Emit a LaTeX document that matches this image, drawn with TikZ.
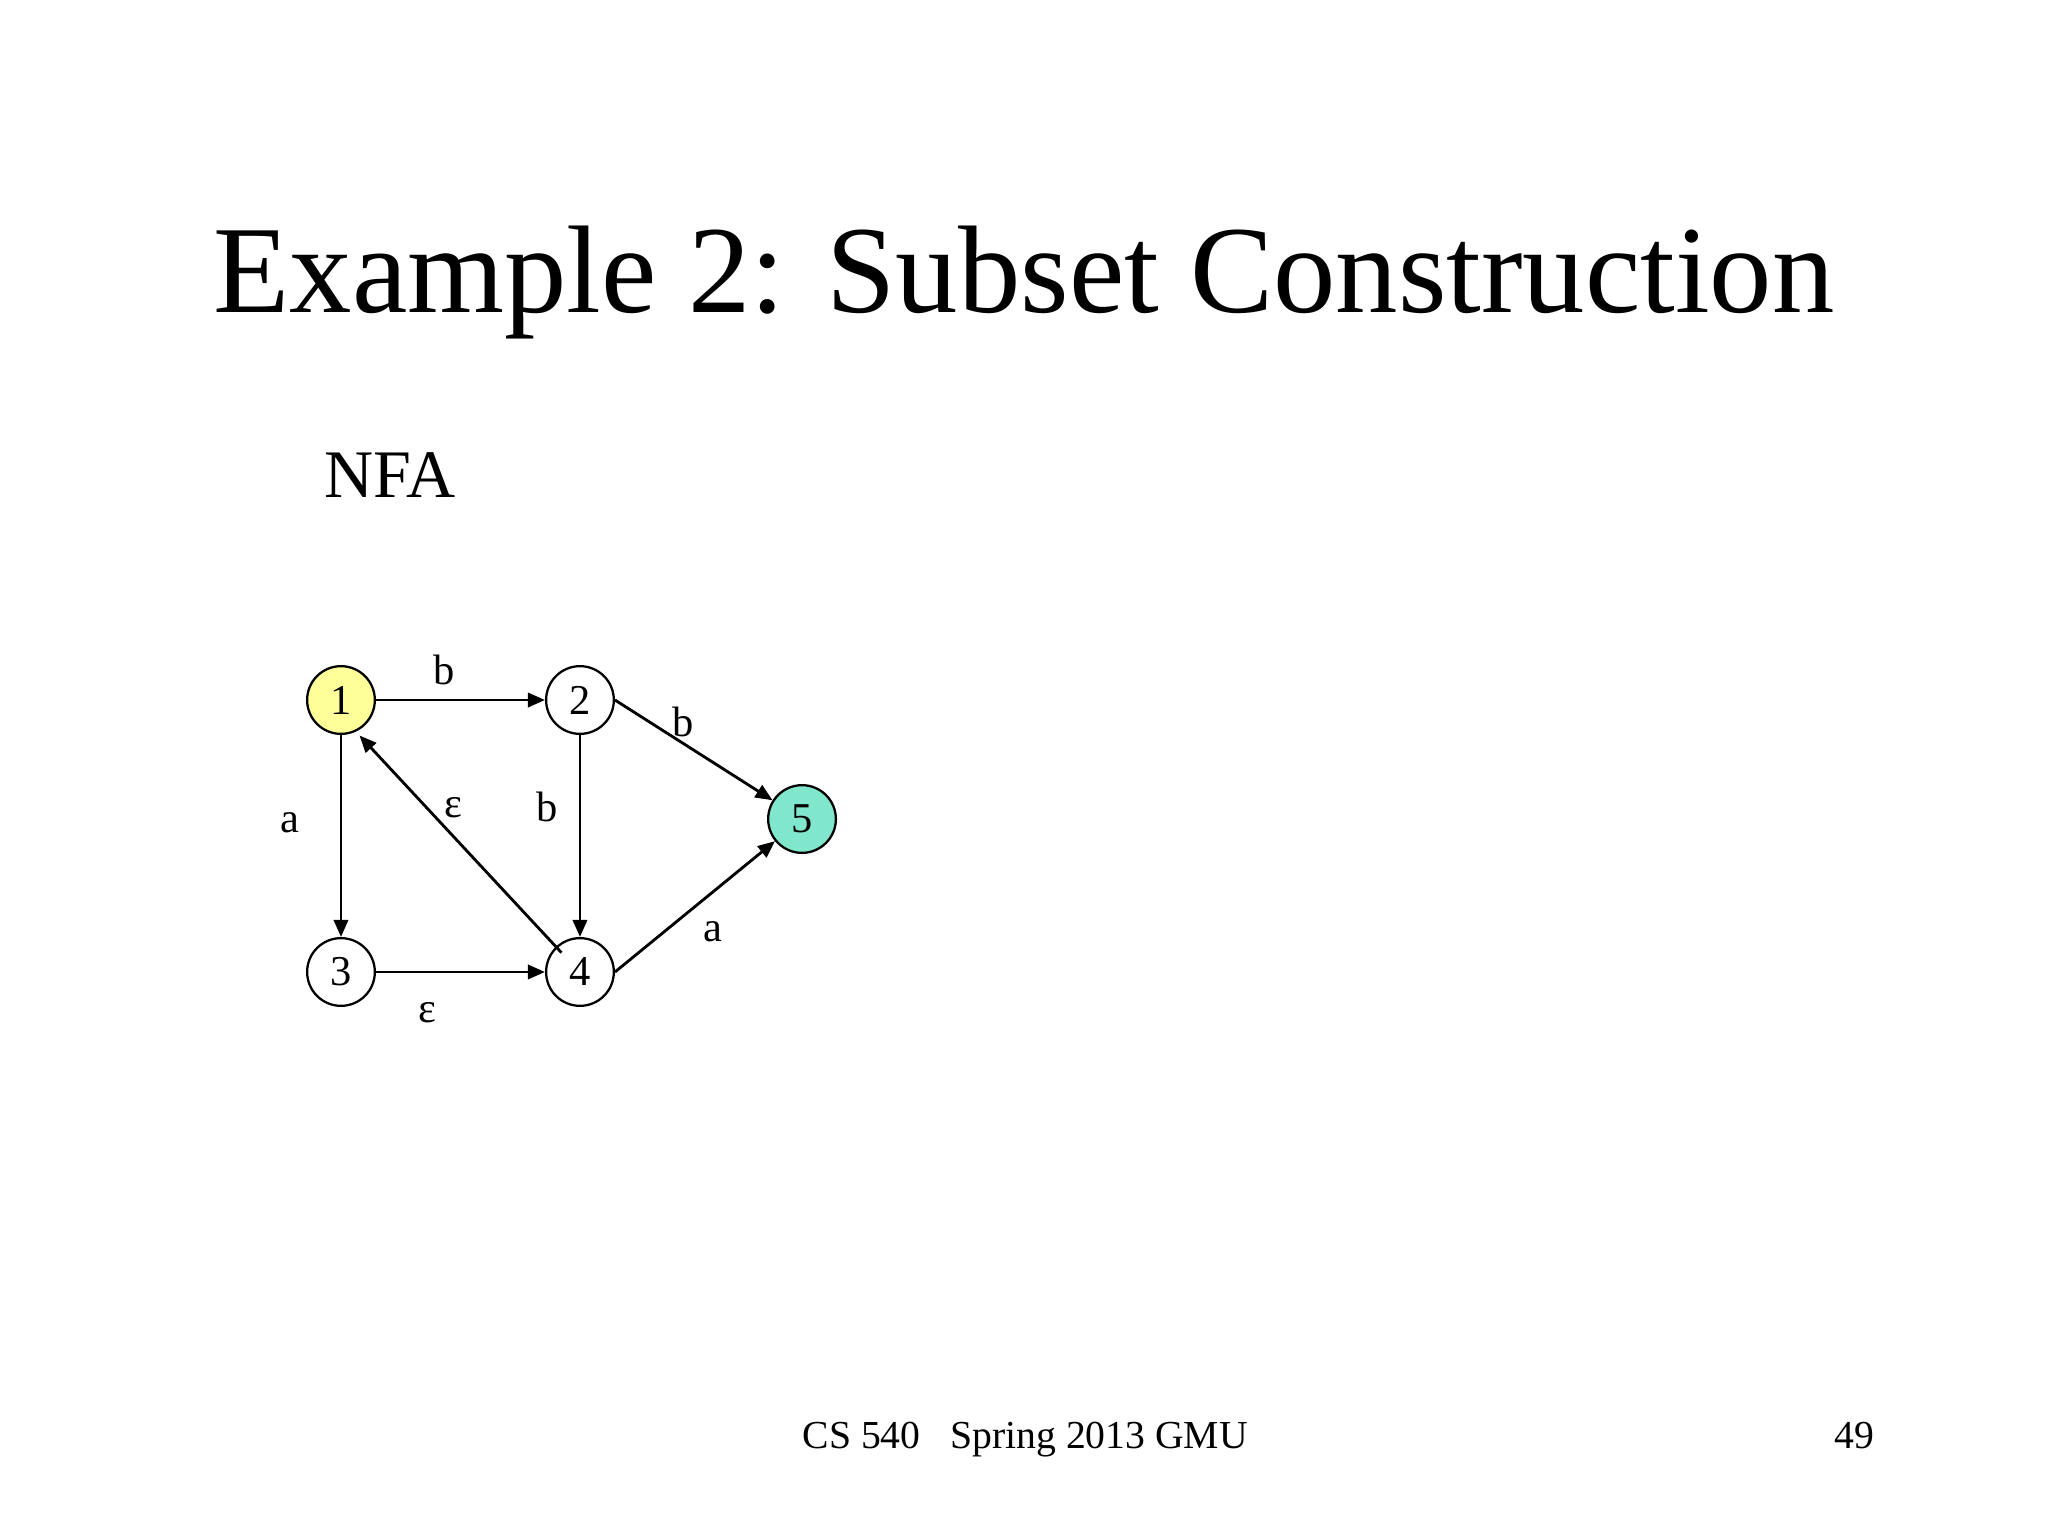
\documentclass[tikz,border=0pt]{standalone}
\usepackage{fontspec}
\setmainfont{Liberation Serif}
\usetikzlibrary{arrows.meta}
\definecolor{startfill}{RGB}{255,255,153}
\definecolor{acceptfill}{RGB}{128,230,204}
\tikzset{
  state/.style={circle, draw, line width=0.8pt, minimum size=0.84cm, inner sep=0pt, font=\fontsize{15}{18}\selectfont},
  trans/.style={-{Triangle[length=6pt,width=5pt]}, line width=1pt},
  lab/.style={inner sep=0pt, font=\fontsize{15}{18}\selectfont}
}
\begin{document}
\begin{tikzpicture}
            \fill[white] (0, 0) rectangle (25.4, 19.05);
            \useasboundingbox (0, 0) rectangle (25.4, 19.05);
            \node[anchor=base, inner sep=0pt] (title) at (12.7, 15.168) {\fontsize{44}{53}\selectfont Example 2: Subset Construction};
            \node[anchor=base west, inner sep=0pt] (nfa) at (4.018, 12.874) {\fontsize{24}{29}\selectfont NFA};
            % states
            \node[state, fill=startfill] (q1) at (4.229, 10.368) {1};
            \node[state] (q2) at (7.193, 10.368) {2};
            \node[state] (q3) at (4.229, 6.995) {3};
            \node[state] (q4) at (7.193, 6.995) {4};
            \node[state, fill=acceptfill] (q5) at (9.947, 8.892) {5};
            % transitions
            \draw[trans] (q1.east) -- (q2.west);
            \draw[trans] (q1.south) -- (q3.north);
            \draw[trans] (q2.south) -- (q4.north);
            \draw[trans] (q3.east) -- (q4.west);
            \draw[trans] (q2.east) -- (q5);
            \draw[trans] (q4.east) -- (q5);
            \draw[trans] ([shift={(-0.23, 0.24)}]q4.center) -- ([shift={(0.23, -0.44)}]q1.center);
            % labels
            \node[lab] (l12) at (5.507, 10.740) {b};
            \node[lab] (l25) at (8.471, 10.095) {b};
            \node[lab] (l13) at (3.597, 8.843) {a};
            \node[lab] (l41) at (5.618, 9.029) {ε};
            \node[lab] (l24) at (6.784, 9.041) {b};
            \node[lab] (l45) at (8.843, 7.491) {a};
            \node[lab] (l34) at (5.296, 6.486) {ε};
            % footer
            \node[anchor=base west, inner sep=0pt] (foot) at (9.947, 1.079) {\fontsize{14}{17}\selectfont CS 540\ \ \ Spring 2013 GMU};
            \node[anchor=base east, inner sep=0pt] (page) at (23.25, 1.079) {\fontsize{14}{17}\selectfont 49};
        \end{tikzpicture}
\end{document}
